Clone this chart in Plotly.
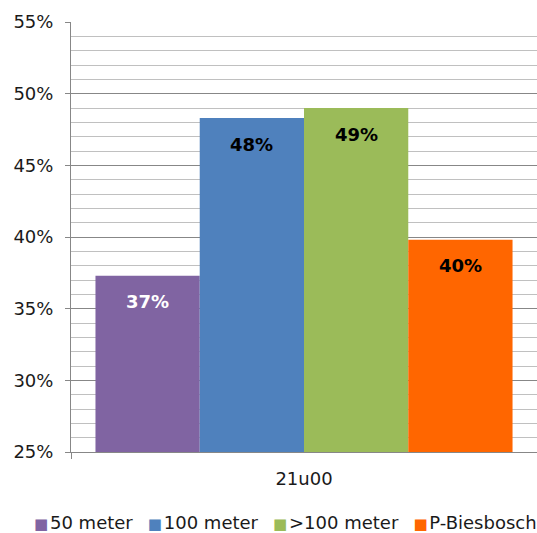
import plotly.graph_objects as go

categories = ["21u00"]
series_names = ["50 meter", "100 meter", ">100 meter", "P-Biesbosch"]
series_values = [[0.373], [0.483], [0.490], [0.398]]
series_colors = ["#8064A2", "#4F81BD", "#9BBB59", "#FF6600"]
label_colors = ["white", "black", "black", "black"]

BARGAP = 0.105
FONT = "DejaVu Sans"

fig = go.Figure()
for name, vals, col in zip(series_names, series_values, series_colors):
    fig.add_trace(go.Bar(
        x=categories, y=vals, name=name,
        marker=dict(color=col, line=dict(width=0)),
        hoverinfo="skip",
    ))

# value labels just inside the top of each bar
n = len(series_names)
bar_w = (1 - BARGAP) / n
annotations = []
for i, (vals, lcol) in enumerate(zip(series_values, label_colors)):
    for j, v in enumerate(vals):
        annotations.append(dict(
            x=j - (1 - BARGAP) / 2 + bar_w * (i + 0.5), y=v,
            xref="x", yref="y", text=f"<b>{v:.0%}</b>", showarrow=False,
            yshift=-26, font=dict(family=FONT, size=18, color=lcol),
        ))

# legend row under the axis
parts = [
    f"<span style='color:{c};font-size:15px'>■</span>\u200a{nm}"
    for nm, c in zip(series_names, series_colors)
]
annotations.append(dict(
    x=-0.083, y=-0.163, xref="paper", yref="paper", xanchor="left", yanchor="middle",
    text="\u00a0\u00a0\u2009".join(parts), showarrow=False,
    font=dict(family=FONT, size=18, color="#1a1a1a"),
))

fig.update_layout(
    width=537, height=533,
    margin=dict(l=71, r=0, t=22, b=81),
    paper_bgcolor="white", plot_bgcolor="white",
    barmode="group", bargap=BARGAP, bargroupgap=0,
    font=dict(family=FONT, size=18, color="#1a1a1a"),
    showlegend=False,
    annotations=annotations,
)
fig.update_yaxes(
    range=[0.25, 0.55], dtick=0.05, tickformat=".0%",
    showgrid=True, gridcolor="#878787", gridwidth=1,
    minor=dict(dtick=0.01, showgrid=True, gridcolor="#c0c0c0", gridwidth=1),
    showline=True, linecolor="#878787", linewidth=1,
    ticks="outside", ticklen=5, tickcolor="#878787",
    ticklabelstandoff=8,
    zeroline=False, fixedrange=True,
)
fig.update_xaxes(
    showline=True, linecolor="#878787", linewidth=1,
    showgrid=False, ticks="outside", tickson="boundaries", ticklen=6,
    tickcolor="#878787", ticklabelstandoff=10, fixedrange=True,
)

fig.write_html("out.html")
